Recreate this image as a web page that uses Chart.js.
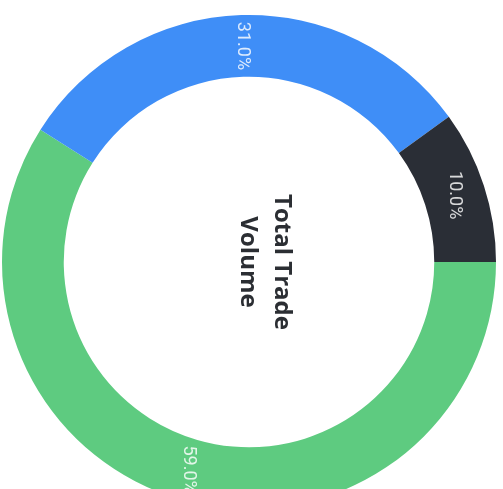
<!DOCTYPE html>
<html lang="en">
<head>
  <meta charset="UTF-8">
  <title>Total Trade Volume</title>
  <script src="https://cdn.jsdelivr.net/npm/chart.js"></script>
  <style>
    html, body {
      margin: 0;
      padding: 0;
      background: #ffffff;
      overflow: hidden;
    }

    #wrap {
      position: relative;
      width: 503px;
      height: 522px;
    }
  </style>
</head>
<body>
  <div id="wrap">
    <canvas id="volumeChart"></canvas>
  </div>

  <script>
    const categories = ['Spot', 'Futures', 'Options'];
    const shares = [59.0, 31.0, 10.0];
    const colors = ['#5ecb80', '#3f8ef7', '#2a2e36'];
    const centerLines = ['Total Trade', 'Volume'];

    // percent labels, written sideways like the rest of the chart
    const sliceLabels = {
      id: 'sliceLabels',
      afterDatasetsDraw(chart) {
        const ctx = chart.ctx;
        const meta = chart.getDatasetMeta(0);
        const total = shares.reduce((a, b) => a + b, 0);
        ctx.save();
        ctx.font = '18px Roboto, sans-serif';
        ctx.fillStyle = 'rgba(255, 255, 255, 0.82)';
        ctx.textAlign = 'center';
        ctx.textBaseline = 'middle';
        meta.data.forEach((arc, i) => {
          const pos = arc.tooltipPosition();
          const pct = (shares[i] / total * 100).toFixed(1) + '%';
          ctx.save();
          ctx.translate(pos.x, pos.y);
          ctx.rotate(Math.PI / 2);
          ctx.fillText(pct, 0, 0);
          ctx.restore();
        });
        ctx.restore();
      }
    };

    const centerText = {
      id: 'centerText',
      afterDraw(chart) {
        const ctx = chart.ctx;
        const arc = chart.getDatasetMeta(0).data[0];
        ctx.save();
        ctx.translate(arc.x, arc.y);
        ctx.rotate(Math.PI / 2);
        ctx.font = 'bold 24px "Open Sans", sans-serif';
        ctx.fillStyle = '#2b2e33';
        ctx.textAlign = 'center';
        ctx.textBaseline = 'middle';
        ctx.fillText(centerLines[0], 0, -33);
        ctx.fillText(centerLines[1], 0, 1);
        ctx.restore();
      }
    };

    new Chart(document.getElementById('volumeChart'), {
      type: 'doughnut',
      data: {
        labels: categories,
        datasets: [{
          data: shares,
          backgroundColor: colors,
          borderWidth: 0
        }]
      },
      options: {
        responsive: true,
        maintainAspectRatio: false,
        animation: false,
        rotation: 90,
        cutout: '75%',
        layout: {
          padding: { left: 2, right: 7, top: 15, bottom: 13 }
        },
        plugins: {
          legend: { display: false },
          tooltip: { enabled: false }
        }
      },
      plugins: [sliceLabels, centerText]
    });
  </script>
</body>
</html>
